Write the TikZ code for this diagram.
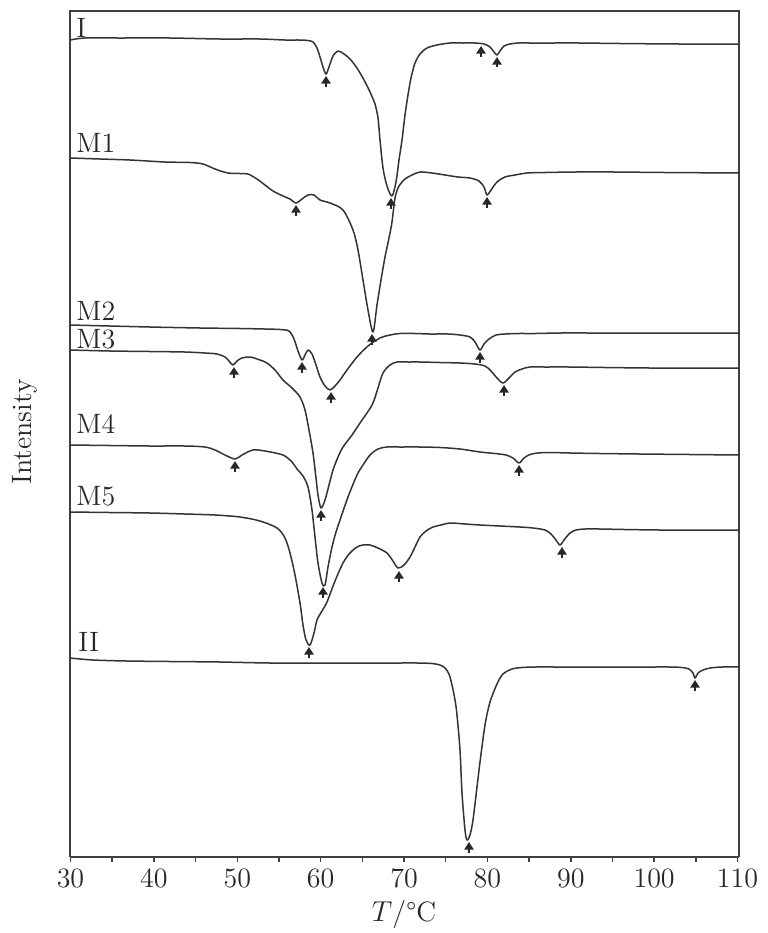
\documentclass[tikz,border=0pt]{standalone}
\usepackage{fontspec}
\usetikzlibrary{arrows.meta}
\begin{document}
\begin{tikzpicture}[x=0.5pt,y=-0.5pt,
  curve/.style={line width=0.75pt,draw=black!80,line join=round,line cap=round},
  peak/.style={-{Triangle[width=4.6pt,length=3.8pt]},line width=1pt,draw=black!85,fill=black!85},
  lab/.style={font=\fontsize{14}{16}\selectfont,text=black!85,inner sep=0pt},
  frame/.style={line width=0.75pt,draw=black!75}]
\useasboundingbox (0,0) rectangle (767,933);
% frame
\draw[frame] (70,857) -- (70,11) -- (739,11) -- (739,857);
\draw[frame,line width=1pt] (70,857) -- (739,857);
\foreach \t in {30,35,...,110}{
  \pgfmathsetmacro{\xx}{70.5+(\t-30)*8.3375}
  \draw[frame] (\xx,857) -- (\xx,862);
}
\foreach \t [count=\i] in {30,40,...,110}{
  \pgfmathsetmacro{\xx}{70.5+(\t-30)*8.3375}
  \node[lab] (tick\i) at (\xx,878) {\t};
}
\node[lab] (xlabel) at (404,914) {$T$/°C};
\node[lab,rotate=90] (ylabel) at (25,432) {Intensity};
% curve labels
\node[lab,anchor=west] (lI) at (76,28) {I};
\node[lab,anchor=west] (lM1) at (76,143) {M1};
\node[lab,anchor=west] (lM2) at (76,311) {M2};
\node[lab,anchor=west] (lM3) at (76,339) {M3};
\node[lab,anchor=west] (lM4) at (76,424) {M4};
\node[lab,anchor=west] (lM5) at (76,496) {M5};
\node[lab,anchor=west] (lII) at (78,642) {II};
% curve I
\draw[curve] plot[smooth,tension=0.5] coordinates {(70,40) (85,38) (120,38) (170,38) (220,39) (260,39) (285,40) (300,40) (308,40.5) (313,42) (317,48) (320,57) (323,67) (326,74) (329,67) (333,56) (338,51) (344,54) (350,59) (357,68) (364,80) (370,92) (375,104) (378,118) (380,140) (383,168) (387,186) (392,196) (396,182) (399,160) (402,140) (405,115) (408,95) (411,78) (415,63) (420,54) (427,48) (437,45) (450,43) (463,43) (475,43) (484,44) (490,47) (494,52) (497,55) (500,51) (504,46) (510,44) (518,43) (530,43) (550,43) (580,43) (620,43.5) (680,44) (739,44)};
\draw[peak] (326,87) -- (326,76);
\draw[peak] (391,209) -- (391,198);
\draw[peak] (481,57) -- (481,46);
\draw[peak] (497,67) -- (497,57);
% curve M1
\draw[curve] plot[smooth,tension=0.5] coordinates {(70,158) (100,159) (130,160) (165,162) (190,162.5) (203,164) (215,169) (228,173) (240,173.5) (248,174) (257,179) (265,185) (273,191) (283,196) (290,199) (296,203) (302,199) (308,195) (314,195) (320,200) (330,203) (343,210) (353,230) (358,250) (363,280) (368,310) (373,332) (377,305) (381,280) (385,257) (389,238) (392,222) (395,198) (399,186) (405,179) (412,175) (420,172) (432,173) (445,175) (458,177) (470,178) (479,181) (484,187) (487,195) (491,190) (497,182) (505,177) (515,175) (527,173) (545,172.5) (575,172) (615,172) (665,172.5) (739,173)};
\draw[peak] (296,216) -- (296,205);
\draw[peak] (372,345) -- (372,334);
\draw[peak] (487,208) -- (487,197);
% curve M2
\draw[curve] plot[smooth,tension=0.5] coordinates {(70,325) (110,326) (150,327) (200,328) (240,328.5) (265,329) (280,329.5) (289,331) (294,339) (298,351) (302,360) (305,355) (308,350) (312,354) (316,365) (320,377) (325,386) (330,390) (335,386) (340,380) (347,370) (357,357) (368,346) (380,338) (390,335) (400,333.5) (415,333.5) (430,334) (448,334) (460,335) (470,337) (475,342) (480,350) (484,344) (489,339) (496,335) (505,334) (518,333.5) (535,333.5) (560,333) (595,333) (640,333) (690,333) (739,333)};
\draw[peak] (302,373) -- (302,362);
\draw[peak] (331,403) -- (331,392);
\draw[peak] (480,363) -- (480,352);
% curve M3
\draw[curve] plot[smooth,tension=0.5] coordinates {(70,350) (110,351) (150,351.5) (185,352) (205,353) (217,354) (225,357) (229,361) (233,365) (237,361) (242,358) (250,357) (260,360) (267,363) (275,370) (283,380) (292,388) (300,397) (305,410) (309,430) (313,453) (316,478) (318,495) (321,508) (325,500) (329,485) (333,470) (338,457) (343,447) (352,435) (360,423) (367,413) (373,403) (378,388) (383,373) (390,365) (397,362) (408,362) (420,362) (440,362.5) (460,363) (475,364) (485,366) (491,371) (497,378) (503,383) (509,378) (515,372) (522,369) (530,367) (545,367) (570,367) (605,367.5) (650,368) (695,368) (739,368)};
\draw[peak] (234,378) -- (234,367);
\draw[peak] (321,521) -- (321,510);
\draw[peak] (504,396) -- (504,385);
% curve M4
\draw[curve] plot[smooth,tension=0.5] coordinates {(70,445) (110,445.5) (150,446) (185,446) (205,447) (215,450) (225,455) (235,459) (242,455) (253,450) (265,451) (283,455) (292,462) (297,469) (303,476) (308,487) (312,510) (315,537) (318,563) (322,583) (325,585) (328,567) (332,547) (336,532) (340,520) (348,497) (357,475) (363,465) (370,455) (378,449) (387,447) (400,447) (420,447) (440,447.5) (460,449) (480,452) (495,453.5) (506,455) (513,458) (519,463) (524,458) (530,454.5) (538,453) (550,452.5) (570,453) (600,453.5) (640,454) (690,454.5) (739,455)};
\draw[peak] (235,472) -- (235,461);
\draw[peak] (323,598) -- (323,587);
\draw[peak] (519,476) -- (519,465);
% curve M5
\draw[curve] plot[smooth,tension=0.5] coordinates {(70,512) (110,512.5) (150,513) (185,514) (215,515) (240,517) (260,521) (277,528) (285,538) (290,553) (295,575) (300,603) (303,625) (306,640) (310,645) (314,633) (317,620) (322,611) (327,602) (335,581) (343,563) (350,553) (357,547) (363,545) (370,545) (378,548) (387,553) (393,561) (398,568) (404,565) (410,557) (415,547) (420,537) (426,531) (433,527) (441,525) (450,523) (465,524) (480,525) (500,526) (520,527) (533,528) (545,530) (551,534) (556,540) (560,545) (564,540) (570,533) (576,530) (585,529) (600,529) (625,529.5) (660,530) (700,530) (739,530)};
\draw[peak] (309,658) -- (309,647);
\draw[peak] (399,582) -- (399,571);
\draw[peak] (562,558) -- (562,547);
% curve II
\draw[curve] plot[smooth,tension=0.5] coordinates {(70,658) (93,660) (127,661) (170,661.5) (220,662) (270,663) (320,663) (360,663) (395,663) (418,663) (432,663.5) (440,665) (445,668) (449,674) (452,685) (455,700) (457,715) (460,750) (462,793) (465,830) (467,840) (470,835) (473,820) (477,787) (480,762) (485,725) (490,702) (497,684) (503,674) (512,669) (522,667.5) (535,667) (560,667) (590,667) (620,667) (650,667) (670,667) (682,667.5) (689,669) (693,673) (695,678) (698,673) (703,670) (710,668) (722,667) (739,667)};
\draw[peak] (469,853) -- (469,842);
\draw[peak] (695,691) -- (695,680);
\end{tikzpicture}
\end{document}
